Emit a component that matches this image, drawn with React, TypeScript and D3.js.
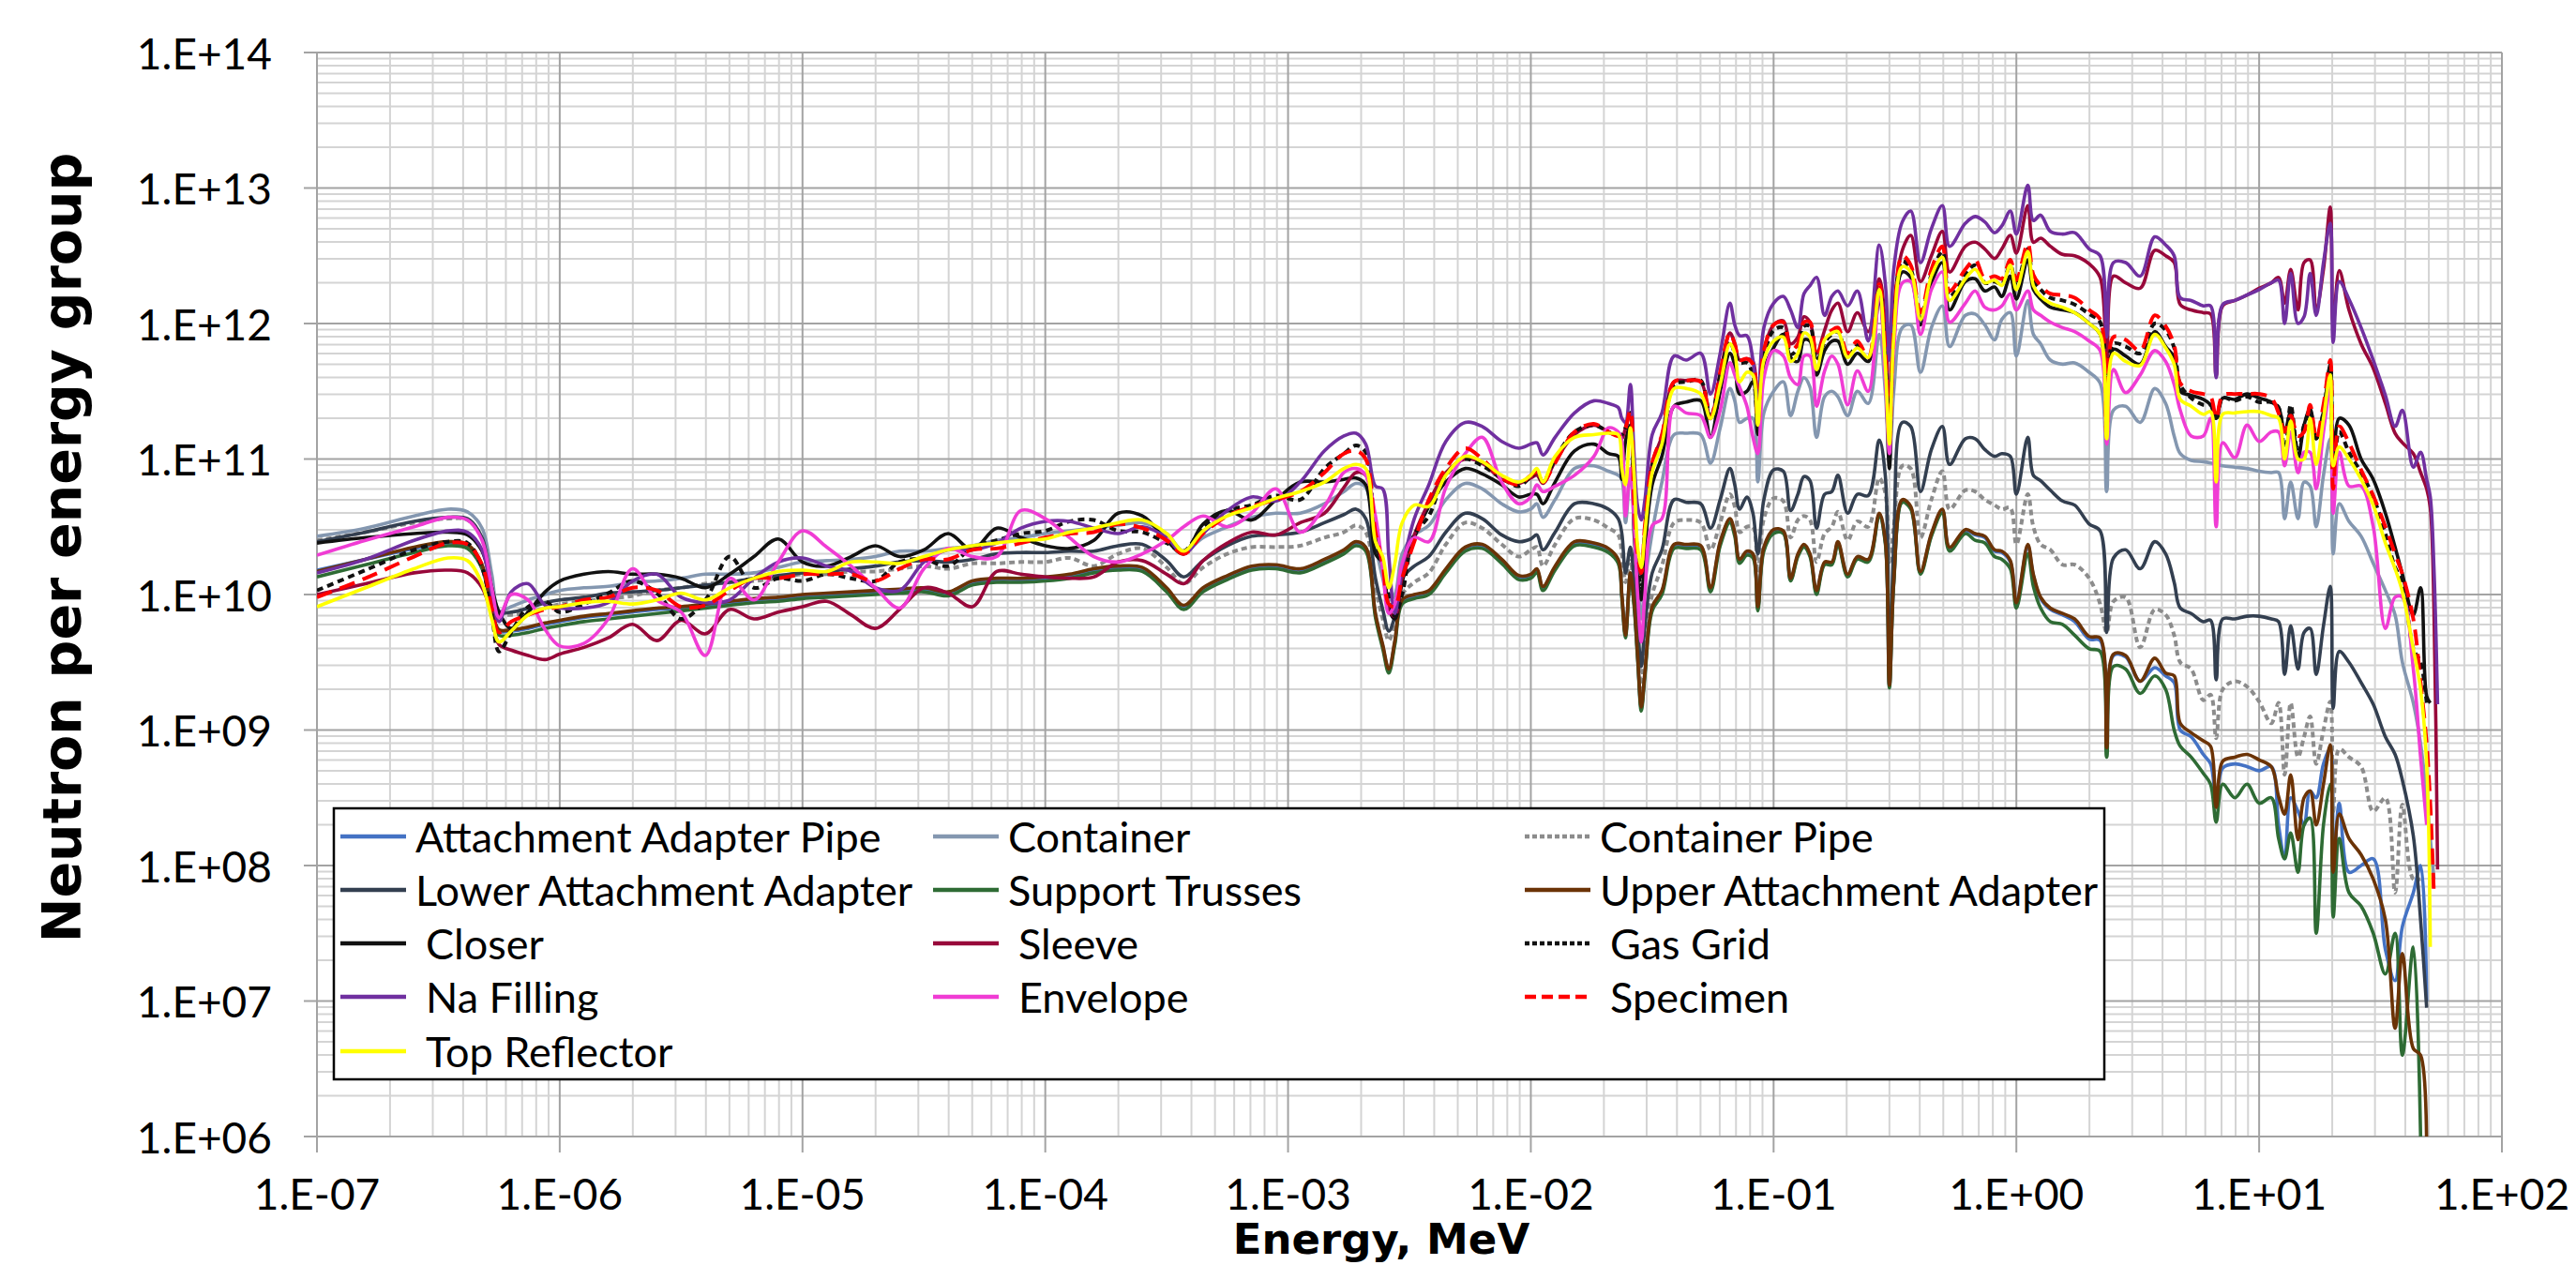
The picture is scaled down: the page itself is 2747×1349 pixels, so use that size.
import * as d3 from "d3";

// x grid: log10(energy, MeV); series values: log10(neutrons per energy group)
const logEnergy = [
  -7.0, -6.8, -6.6, -6.46, -6.38, -6.32, -6.28, -6.25, -6.2, -6.13, -6.06, -6.0,
  -5.9, -5.8, -5.7, -5.6, -5.5, -5.4, -5.3, -5.2, -5.1, -5.0, -4.9, -4.8, -4.7, -4.6, -4.5, -4.4, -4.3, -4.2, -4.1, -4.0, -3.9, -3.8, -3.7, -3.6, -3.5, -3.43, -3.35, -3.25, -3.15, -3.05,
  -2.95, -2.85, -2.77, -2.72, -2.68, -2.64, -2.61, -2.585, -2.56, -2.53, -2.48, -2.42, -2.35, -2.27, -2.2, -2.12, -2.05, -2.0, -1.975, -1.95, -1.9, -1.82, -1.74, -1.68, -1.64, -1.625, -1.61, -1.59, -1.575, -1.56, -1.545, -1.53, -1.5, -1.46, -1.41, -1.36, -1.3, -1.26, -1.22, -1.18, -1.16, -1.14, -1.11, -1.085, -1.065, -1.04, -1.0,
  -0.96, -0.93, -0.9, -0.875, -0.85, -0.823, -0.79, -0.76, -0.735, -0.695, -0.655, -0.61, -0.565, -0.54, -0.523, -0.505, -0.47, -0.435, -0.395, -0.35, -0.305, -0.275, -0.21, -0.17, -0.13, -0.09, -0.06, -0.025, 0.0, 0.047, 0.07, 0.1, 0.14, 0.19, 0.24, 0.3, 0.345, 0.372, 0.4, 0.45, 0.51, 0.57, 0.615, 0.65, 0.675, 0.72, 0.77, 0.8, 0.823, 0.85, 0.9, 0.95, 1.0, 1.05, 1.08, 1.105, 1.13, 1.16, 1.185, 1.21, 1.235, 1.265, 1.293, 1.305, 1.33, 1.37, 1.42, 1.47, 1.52, 1.56, 1.59, 1.635, 1.665, 1.69, 1.705, 1.72, 1.735, 1.745,
];

const attachmentAdapterPipe = [
  10.18, 10.26, 10.34, 10.38, 10.36, 10.21, 9.89, 9.73, 9.73, 9.75, 9.78, 9.8,
  9.83, 9.85, 9.87, 9.89, 9.9, 9.92, 9.94, 9.96, 9.97, 9.99, 10.0, 10.01, 10.02, 10.03, 10.04, 10.01, 10.09, 10.11, 10.11, 10.12, 10.14, 10.18, 10.2, 10.19, 10.04, 9.91, 10.04, 10.13, 10.2, 10.21,
  10.18, 10.25, 10.32, 10.38, 10.34, 9.85, 9.62, 9.44, 9.65, 9.95, 9.99, 10.02, 10.18, 10.34, 10.36, 10.25, 10.13, 10.14, 10.18, 10.05, 10.2, 10.38, 10.37, 10.33, 10.25, 9.99, 9.7, 10.15, 9.94, 9.54, 9.16, 9.42, 9.9, 10.02, 10.36, 10.36, 10.35, 10.04, 10.38, 10.55, 10.45, 10.25, 10.31, 10.29, 9.9, 10.34, 10.47,
  10.46, 10.11, 10.29, 10.36, 10.29, 10.02, 10.23, 10.23, 10.38, 10.14, 10.27, 10.25, 10.59, 10.39, 9.32, 10.09, 10.69, 10.64, 10.16, 10.44, 10.62, 10.34, 10.47, 10.44, 10.42, 10.32, 10.31, 10.24, 9.93, 10.36, 10.14, 9.97, 9.89, 9.85, 9.8, 9.67, 9.66, 8.86, 9.55, 9.54, 9.36, 9.46, 9.4, 9.35, 9.0, 8.95, 8.82, 8.75, 8.5, 8.72, 8.75, 8.73, 8.7, 8.73, 8.3, 8.05, 8.5, 8.4, 8.3, 8.55, 8.5, 8.75, 8.86, 7.92, 8.46, 7.95, 8.0, 8.05, 7.38, 7.15, 7.55, 7.8, 8.0, 7.0, null, null, null, null,
];

const container = [
  10.43, 10.49, 10.58, 10.63, 10.61, 10.49, 10.15, 9.88, 9.91, 9.96, 10.0, 10.03,
  10.05, 10.06, 10.09, 10.1, 10.12, 10.15, 10.15, 10.16, 10.2, 10.24, 10.25, 10.26, 10.28, 10.32, 10.32, 10.34, 10.36, 10.4, 10.42, 10.45, 10.47, 10.49, 10.51, 10.53, 10.45, 10.32, 10.42, 10.5, 10.57, 10.6,
  10.6, 10.67, 10.76, 10.82, 10.79, 10.37, 10.12, 9.96, 10.0, 10.3, 10.44, 10.51, 10.7, 10.82, 10.78, 10.67, 10.61, 10.63, 10.67, 10.57, 10.7, 10.93, 10.95, 10.91, 10.88, 10.85, 10.53, 10.9, 10.6, 10.12, 9.82, 10.09, 10.46, 10.83, 11.18, 11.19, 11.18, 10.97, 11.23, 11.52, 11.43, 11.27, 11.3, 11.3, 10.83, 11.34, 11.5,
  11.57, 11.32, 11.5, 11.6, 11.53, 11.16, 11.46, 11.5, 11.46, 11.32, 11.5, 11.41, 11.92, 11.5, 10.97, 11.5, 11.97, 11.99, 11.64, 11.97, 12.13, 11.83, 12.06, 12.07, 11.99, 11.88, 12.03, 12.08, 11.76, 12.17, 11.92, 11.85, 11.73, 11.7, 11.71, 11.64, 11.56, 10.76, 11.36, 11.39, 11.27, 11.52, 11.41, 11.17, 11.04, 10.99, 10.98, 10.97, 10.96, 10.95, 10.94, 10.93, 10.91, 10.9, 10.9, 10.56, 10.83, 10.56, 10.83, 10.8, 10.5, 10.88, 11.15, 10.3, 10.67, 10.54, 10.43, 10.23, 10.03, 9.85, 9.5, 9.2, 8.9, 8.5, 8.2, 7.9, null, null,
];

const containerPipe = [
  10.4, 10.46, 10.53, 10.56, 10.55, 10.41, 10.05, 9.86, 9.85, 9.87, 9.9, 9.93,
  9.95, 9.97, 9.99, 10.03, 10.05, 10.08, 10.09, 10.1, 10.12, 10.15, 10.15, 10.17, 10.17, 10.19, 10.21, 10.19, 10.23, 10.23, 10.24, 10.24, 10.27, 10.21, 10.3, 10.34, 10.2, 10.08, 10.2, 10.3, 10.35, 10.35,
  10.36, 10.42, 10.46, 10.51, 10.46, 10.05, 9.82, 9.66, 9.79, 10.0, 10.09, 10.16, 10.37, 10.53, 10.49, 10.37, 10.28, 10.33, 10.35, 10.21, 10.37, 10.56, 10.55, 10.49, 10.44, 10.3, 10.09, 10.25, 10.0, 9.68, 9.3, 9.66, 10.0, 10.21, 10.53, 10.55, 10.53, 10.33, 10.53, 10.74, 10.65, 10.46, 10.5, 10.5, 10.16, 10.56, 10.71,
  10.69, 10.42, 10.55, 10.58, 10.55, 10.24, 10.45, 10.5, 10.61, 10.4, 10.54, 10.5, 10.86, 10.75, 10.24, 10.5, 10.95, 10.93, 10.42, 10.7, 10.91, 10.63, 10.77, 10.76, 10.7, 10.66, 10.63, 10.64, 10.37, 10.74, 10.5, 10.37, 10.33, 10.22, 10.22, 10.12, 9.93, 9.72, 9.95, 9.98, 9.61, 9.89, 9.85, 9.7, 9.5, 9.45, 9.22, 9.26, 8.94, 9.3, 9.36, 9.32, 9.21, 9.05, 9.2, 8.67, 9.2, 8.8, 8.95, 9.1, 8.75, 9.0, 9.21, 8.4, 8.86, 8.8, 8.73, 8.4, 8.5, 7.8, 8.45, 7.9, 7.9, null, null, null, null, null,
];

const lowerAttachmentAdapter = [
  10.39, 10.46, 10.54, 10.57, 10.56, 10.42, 10.05, 9.87, 9.87, 9.9, 9.94, 9.96,
  9.98, 10.01, 10.02, 10.03, 10.05, 10.07, 10.09, 10.12, 10.14, 10.16, 10.17, 10.19, 10.21, 10.24, 10.25, 10.24, 10.26, 10.3, 10.31, 10.31, 10.32, 10.32, 10.36, 10.37, 10.25, 10.13, 10.25, 10.36, 10.43, 10.44,
  10.46, 10.53, 10.59, 10.63, 10.56, 10.12, 9.89, 9.73, 9.84, 10.12, 10.21, 10.28, 10.46, 10.6, 10.56, 10.44, 10.39, 10.41, 10.44, 10.33, 10.46, 10.67, 10.67, 10.63, 10.56, 10.45, 10.16, 10.35, 10.1, 9.77, 9.47, 9.77, 10.16, 10.33, 10.7, 10.68, 10.67, 10.49, 10.7, 10.93, 10.81, 10.63, 10.72, 10.6, 10.3, 10.7, 10.92,
  10.91, 10.62, 10.74, 10.87, 10.84, 10.49, 10.74, 10.76, 10.88, 10.6, 10.74, 10.73, 11.14, 10.88, 9.45, 10.37, 11.27, 11.24, 10.76, 11.07, 11.24, 10.96, 11.15, 11.15, 11.07, 11.02, 11.04, 11.02, 10.74, 11.16, 10.88, 10.84, 10.77, 10.69, 10.66, 10.52, 10.47, 9.72, 10.27, 10.33, 10.19, 10.39, 10.3, 10.09, 9.9, 9.86, 9.8, 9.81, 9.37, 9.82, 9.82, 9.84, 9.84, 9.82, 9.8, 9.41, 9.77, 9.45, 9.72, 9.75, 9.41, 9.77, 10.06, 9.16, 9.58, 9.5, 9.35, 9.19, 8.95, 8.82, 8.63, 8.22, 7.6, 6.95, null, null, null, null,
];

const supportTrusses = [
  10.13, 10.22, 10.31, 10.36, 10.34, 10.19, 9.87, 9.7, 9.7, 9.72, 9.75, 9.77,
  9.8, 9.82, 9.84, 9.86, 9.88, 9.9, 9.92, 9.94, 9.95, 9.97, 9.98, 9.99, 10.0, 10.01, 10.02, 9.99, 10.07, 10.09, 10.09, 10.1, 10.12, 10.16, 10.18, 10.17, 10.02, 9.89, 10.02, 10.11, 10.18, 10.19,
  10.16, 10.23, 10.3, 10.36, 10.32, 9.83, 9.6, 9.42, 9.63, 9.93, 9.97, 10.0, 10.16, 10.32, 10.34, 10.23, 10.11, 10.12, 10.16, 10.03, 10.18, 10.36, 10.35, 10.31, 10.23, 9.97, 9.68, 10.13, 9.92, 9.52, 9.14, 9.4, 9.88, 10.0, 10.34, 10.34, 10.33, 10.02, 10.36, 10.53, 10.43, 10.23, 10.29, 10.27, 9.88, 10.32, 10.45,
  10.45, 10.1, 10.28, 10.35, 10.28, 10.0, 10.22, 10.22, 10.37, 10.13, 10.26, 10.24, 10.58, 10.38, 9.31, 10.08, 10.68, 10.63, 10.15, 10.43, 10.6, 10.32, 10.45, 10.4, 10.38, 10.28, 10.26, 10.19, 9.9, 10.3, 10.06, 9.9, 9.8, 9.78, 9.7, 9.6, 9.58, 8.8, 9.47, 9.45, 9.27, 9.4, 9.3, 9.0, 8.88, 8.8, 8.68, 8.6, 8.32, 8.6, 8.5, 8.6, 8.46, 8.5, 8.2, 8.05, 8.24, 7.95, 8.3, 8.35, 7.5, 8.3, 8.6, 7.62, 8.2, 7.8, 7.7, 7.5, 7.2, 7.5, 6.6, 7.4, 6.0, null, null, null, null, null,
];

const upperAttachmentAdapter = [
  10.17, 10.26, 10.35, 10.39, 10.37, 10.22, 9.9, 9.74, 9.74, 9.76, 9.79, 9.81,
  9.84, 9.86, 9.88, 9.9, 9.91, 9.93, 9.95, 9.97, 9.98, 10.0, 10.01, 10.02, 10.03, 10.04, 10.05, 10.02, 10.1, 10.12, 10.12, 10.13, 10.15, 10.19, 10.21, 10.2, 10.05, 9.92, 10.05, 10.14, 10.21, 10.22,
  10.19, 10.26, 10.33, 10.39, 10.35, 9.86, 9.63, 9.45, 9.66, 9.96, 10.0, 10.03, 10.19, 10.35, 10.37, 10.26, 10.14, 10.15, 10.19, 10.06, 10.21, 10.39, 10.38, 10.34, 10.26, 10.0, 9.7, 10.16, 9.95, 9.55, 9.17, 9.43, 9.91, 10.03, 10.37, 10.37, 10.36, 10.05, 10.39, 10.56, 10.46, 10.26, 10.32, 10.3, 9.91, 10.35, 10.48,
  10.47, 10.12, 10.3, 10.37, 10.3, 10.03, 10.24, 10.24, 10.39, 10.15, 10.28, 10.26, 10.6, 10.4, 9.33, 10.1, 10.7, 10.65, 10.17, 10.45, 10.63, 10.35, 10.48, 10.45, 10.43, 10.33, 10.32, 10.25, 9.94, 10.37, 10.15, 9.98, 9.9, 9.86, 9.82, 9.69, 9.68, 8.87, 9.56, 9.55, 9.36, 9.53, 9.42, 9.4, 9.05, 8.98, 8.92, 8.88, 8.43, 8.77, 8.8, 8.82, 8.78, 8.73, 8.51, 8.38, 8.67, 8.19, 8.5, 8.55, 8.3, 8.6, 8.89, 7.95, 8.38, 8.2, 8.08, 7.9, 7.6, 6.8, 7.35, 6.65, 6.6, 5.8, null, null, null, null,
];

const closer = [
  10.38, 10.42, 10.45, 10.46, 10.44, 10.32, 10.05, 9.87, 9.75, 9.87, 10.02, 10.1,
  10.15, 10.17, 10.15, 10.15, 10.12, 10.05, 10.15, 10.28, 10.41, 10.24, 10.21, 10.28, 10.36, 10.28, 10.33, 10.45, 10.33, 10.49, 10.42, 10.36, 10.34, 10.4, 10.6, 10.58, 10.4, 10.3, 10.52, 10.62, 10.55, 10.7,
  10.83, 10.83, 10.85, 10.86, 10.81, 10.3, 10.23, 9.89, 9.82, 10.09, 10.42, 10.65, 10.83, 10.93, 10.89, 10.81, 10.72, 10.74, 10.74, 10.67, 10.83, 11.06, 11.11, 11.04, 11.02, 10.85, 11.13, 11.25, 10.46, 10.12, 9.96, 10.33, 10.81, 11.02, 11.39, 11.42, 11.43, 11.16, 11.5, 11.78, 11.69, 11.48, 11.5, 11.57, 11.18, 11.66, 11.82,
  11.92, 11.75, 11.72, 11.88, 11.87, 11.62, 11.8, 11.87, 11.87, 11.7, 11.78, 11.72, 12.17, 11.7, 10.93, 11.85, 12.38, 12.34, 11.99, 12.3, 12.45, 12.1, 12.31, 12.33, 12.24, 12.27, 12.2, 12.35, 12.18, 12.47, 12.25, 12.18, 12.12, 12.1, 12.08, 12.0, 11.92, 11.3, 11.81, 11.76, 11.7, 11.94, 11.83, 11.75, 11.5, 11.47, 11.44, 11.4, 11.3, 11.45, 11.44, 11.48, 11.45, 11.42, 11.38, 11.2, 11.35, 11.0, 11.25, 11.37, 11.15, 11.35, 11.7, 10.85, 11.3, 11.25, 11.0, 10.85, 10.6, 10.35, 10.15, 9.85, 10.05, 9.25, 9.2, null, null, null,
];

const sleeve = [
  10.0, 10.08, 10.16, 10.18, 10.16, 10.05, 9.85, 9.63, 9.59, 9.55, 9.52, 9.56,
  9.61, 9.68, 9.78, 9.66, 9.81, 9.71, 9.89, 9.82, 9.87, 9.91, 9.95, 9.85, 9.75, 9.89, 10.05, 10.01, 9.91, 10.17, 10.15, 10.13, 10.12, 10.13, 10.24, 10.25, 10.15, 10.08, 10.25, 10.38, 10.46, 10.44,
  10.53, 10.6, 10.79, 10.9, 10.88, 10.46, 10.2, 9.89, 9.84, 10.12, 10.44, 10.68, 10.9, 11.0, 10.97, 10.85, 10.82, 10.86, 10.88, 10.82, 10.98, 11.18, 11.25, 11.2, 11.17, 11.15, 11.23, 11.34, 10.7, 10.3, 10.14, 10.48, 10.97, 11.17, 11.57, 11.58, 11.57, 11.3, 11.63, 11.93, 11.85, 11.73, 11.74, 11.72, 11.38, 11.8, 11.99,
  12.02, 11.85, 11.9, 12.05, 12.01, 11.78, 11.95, 12.1, 12.15, 11.94, 12.08, 11.94, 12.33, 12.0, 11.2, 12.1, 12.54, 12.65, 12.31, 12.5, 12.68, 12.38, 12.57, 12.6, 12.55, 12.48, 12.55, 12.65, 12.52, 12.87, 12.6, 12.63, 12.57, 12.51, 12.5, 12.44, 12.34, 11.68, 12.35, 12.3, 12.26, 12.54, 12.5, 12.45, 12.14, 12.1, 12.08, 12.07, 11.61, 12.13, 12.17, 12.21, 12.26, 12.3, 12.34, 12.15, 12.4, 12.1, 12.45, 12.47, 12.1, 12.4, 12.86, 12.0, 12.39, 12.1, 11.85, 11.67, 11.41, 11.19, 11.12, 11.04, 10.9, 10.78, 10.64, 9.9, 7.97, null,
];

const gasGrid = [
  10.03, 10.18, 10.33, 10.39, 10.38, 10.2, 9.85, 9.58, 9.72, 9.91, 9.95, 9.87,
  9.93, 10.01, 10.1, 10.01, 9.82, 9.96, 10.28, 10.05, 10.12, 10.1, 10.15, 10.12, 10.1, 10.24, 10.26, 10.21, 10.35, 10.4, 10.45, 10.47, 10.54, 10.55, 10.47, 10.46, 10.38, 10.32, 10.5, 10.62, 10.66, 10.73,
  10.7, 10.93, 11.04, 11.1, 11.05, 10.39, 10.23, 10.0, 9.84, 10.0, 10.44, 10.58, 10.88, 11.0, 10.95, 10.86, 10.8, 10.87, 10.9, 10.83, 11.0, 11.2, 11.25, 11.2, 11.17, 11.18, 11.23, 11.34, 10.7, 10.23, 10.05, 10.46, 10.95, 11.11, 11.55, 11.57, 11.58, 11.3, 11.62, 11.87, 11.78, 11.71, 11.71, 11.62, 11.3, 11.75, 11.95,
  11.97, 11.77, 11.82, 11.98, 11.98, 11.72, 11.86, 11.92, 11.94, 11.75, 11.84, 11.72, 12.25, 11.75, 11.1, 11.9, 12.46, 12.4, 12.04, 12.36, 12.53, 12.2, 12.36, 12.43, 12.3, 12.31, 12.29, 12.43, 12.28, 12.55, 12.32, 12.25, 12.19, 12.17, 12.14, 12.07, 12.01, 11.2, 11.85, 11.83, 11.78, 12.0, 11.95, 11.82, 11.55, 11.45, 11.4, 11.4, 11.28, 11.45, 11.43, 11.46, 11.42, 11.42, 11.38, 11.0, 11.4, 11.05, 11.25, 11.35, 11.15, 11.35, 11.68, 10.9, 11.2, 11.05, 10.9, 10.72, 10.45, 10.2, 10.1, 9.6, 9.5, 9.2, null, null, null, null,
];

const naFilling = [
  10.16, 10.26, 10.4, 10.47, 10.46, 10.33, 10.0, 9.8, 10.02, 10.08, 9.92, 9.9,
  9.9, 9.94, 10.1, 10.15, 9.98, 9.94, 9.96, 10.12, 10.24, 10.27, 10.21, 10.17, 10.05, 10.03, 10.24, 10.33, 10.33, 10.38, 10.49, 10.54, 10.54, 10.49, 10.45, 10.5, 10.42, 10.3, 10.45, 10.62, 10.72, 10.69,
  10.83, 11.06, 11.17, 11.19, 11.11, 10.8, 10.78, 10.28, 9.86, 10.19, 10.56, 10.81, 11.13, 11.27, 11.24, 11.13, 11.08, 11.11, 11.12, 11.03, 11.16, 11.34, 11.43, 11.41, 11.38, 11.3, 11.27, 11.55, 11.04, 10.65, 10.55, 10.7, 11.18, 11.34, 11.76, 11.73, 11.78, 11.48, 11.78, 12.15, 11.99, 11.91, 11.91, 11.73, 11.39, 11.97, 12.15,
  12.2, 12.1, 11.97, 12.22, 12.28, 12.34, 12.06, 12.2, 12.24, 12.13, 12.24, 11.87, 12.58, 12.3, 11.73, 12.4, 12.75, 12.83, 12.45, 12.7, 12.87, 12.57, 12.74, 12.79, 12.75, 12.67, 12.72, 12.83, 12.66, 13.02, 12.76, 12.8, 12.68, 12.66, 12.67, 12.55, 12.5, 11.9, 12.45, 12.45, 12.35, 12.64, 12.58, 12.5, 12.19, 12.17, 12.13, 12.13, 11.6, 12.14, 12.17, 12.21, 12.25, 12.3, 12.32, 12.0, 12.37, 12.0, 12.05, 12.37, 12.06, 12.45, 12.74, 11.86, 12.31, 12.18, 11.97, 11.73, 11.47, 11.24, 11.36, 10.94, 11.05, 10.85, 10.72, 10.2, 9.19, null,
];

const envelope = [
  10.29, 10.4, 10.5, 10.57, 10.55, 10.4, 10.05, 9.83, 10.0, 9.96, 9.74, 9.62,
  9.64, 9.82, 10.19, 9.96, 9.87, 9.55, 10.12, 9.96, 10.24, 10.47, 10.35, 10.21, 10.05, 9.9, 10.19, 10.34, 10.28, 10.28, 10.62, 10.56, 10.42, 10.28, 10.24, 10.3, 10.4, 10.5, 10.58, 10.5, 10.6, 10.78,
  10.46, 10.65, 10.9, 10.93, 10.88, 10.58, 10.19, 9.86, 9.93, 10.23, 10.42, 10.39, 10.79, 11.04, 11.16, 10.83, 10.67, 10.72, 10.81, 10.76, 10.8, 10.88, 11.02, 11.23, 11.2, 11.13, 10.58, 10.93, 10.53, 10.0, 9.65, 10.0, 10.51, 10.56, 11.39, 11.34, 11.32, 11.16, 11.36, 11.71, 11.62, 11.53, 11.39, 11.16, 11.04, 11.6, 11.8,
  11.76, 11.6, 11.55, 11.76, 11.76, 11.39, 11.65, 11.76, 11.7, 11.4, 11.65, 11.5, 12.22, 11.6, 11.04, 11.8, 12.3, 12.31, 11.92, 12.25, 12.38, 12.01, 12.15, 12.24, 12.12, 12.1, 12.13, 12.22, 12.1, 12.24, 12.1, 12.06, 12.01, 11.97, 11.94, 11.87, 11.8, 11.11, 11.66, 11.49, 11.62, 11.8, 11.72, 11.55, 11.36, 11.17, 11.17, 11.3, 10.5, 11.12, 11.01, 11.25, 11.13, 11.2, 11.2, 10.95, 11.2, 10.9, 11.05, 11.05, 10.78, 11.2, 11.52, 10.6, 11.05, 10.8, 10.8, 10.5, 9.75, 9.98, 9.98, 9.45, 8.8, 8.3, null, null, null, null,
];

const specimen = [
  9.98, 10.12, 10.28, 10.38, 10.37, 10.22, 9.9, 9.72, 9.8, 9.85, 9.89, 9.91,
  9.96, 9.98, 10.05, 10.03, 9.91, 9.92, 10.03, 10.12, 10.12, 10.15, 10.15, 10.15, 10.1, 10.19, 10.26, 10.26, 10.33, 10.34, 10.38, 10.42, 10.45, 10.46, 10.52, 10.49, 10.4, 10.3, 10.45, 10.58, 10.65, 10.7,
  10.76, 10.9, 11.04, 11.06, 11.0, 10.46, 10.23, 9.93, 9.91, 10.12, 10.39, 10.7, 10.93, 11.08, 11.0, 10.86, 10.81, 10.88, 10.9, 10.83, 10.97, 11.2, 11.26, 11.2, 11.17, 11.2, 11.23, 11.36, 10.7, 10.3, 10.16, 10.51, 10.97, 11.18, 11.57, 11.58, 11.57, 11.3, 11.64, 11.93, 11.85, 11.73, 11.74, 11.7, 11.27, 11.8, 11.99,
  12.01, 11.8, 11.85, 12.01, 12.01, 11.76, 11.9, 11.95, 11.97, 11.78, 11.87, 11.75, 12.29, 11.8, 11.16, 11.95, 12.5, 12.43, 12.08, 12.4, 12.57, 12.24, 12.4, 12.47, 12.33, 12.35, 12.33, 12.47, 12.32, 12.59, 12.36, 12.28, 12.22, 12.21, 12.19, 12.1, 12.03, 11.17, 11.9, 11.88, 11.8, 12.06, 11.98, 11.84, 11.56, 11.5, 11.48, 11.46, 11.3, 11.47, 11.48, 11.48, 11.48, 11.45, 11.34, 11.2, 11.32, 11.17, 11.2, 11.4, 11.15, 11.4, 11.73, 10.78, 11.24, 11.12, 10.92, 10.73, 10.5, 10.3, 10.15, 9.82, 9.35, 8.9, 8.45, 7.78, null, null,
];

const topReflector = [
  9.91, 10.05, 10.19, 10.27, 10.25, 10.08, 9.82, 9.65, 9.73, 9.85, 9.9, 9.91,
  9.94, 9.95, 9.93, 9.96, 10.01, 9.96, 10.05, 10.12, 10.17, 10.18, 10.17, 10.24, 10.24, 10.23, 10.28, 10.33, 10.36, 10.38, 10.4, 10.41, 10.46, 10.49, 10.53, 10.55, 10.45, 10.32, 10.47, 10.58, 10.64, 10.71,
  10.76, 10.83, 10.93, 10.96, 10.93, 10.39, 10.28, 10.05, 10.23, 10.53, 10.66, 10.65, 10.88, 11.02, 10.98, 10.88, 10.83, 10.88, 10.93, 10.83, 11.02, 11.16, 11.18, 11.19, 11.18, 10.93, 10.81, 11.23, 10.9, 10.35, 10.2, 10.46, 10.9, 11.11, 11.52, 11.52, 11.48, 11.3, 11.55, 11.85, 11.78, 11.57, 11.64, 11.62, 11.25, 11.73, 11.87,
  11.9, 11.72, 11.78, 11.93, 11.9, 11.66, 11.88, 11.93, 11.94, 11.75, 11.82, 11.75, 12.25, 11.7, 11.11, 11.9, 12.42, 12.38, 12.03, 12.35, 12.49, 12.17, 12.33, 12.4, 12.3, 12.32, 12.28, 12.43, 12.25, 12.53, 12.28, 12.2, 12.15, 12.12, 12.08, 12.0, 11.92, 11.15, 11.78, 11.72, 11.69, 11.92, 11.82, 11.7, 11.44, 11.39, 11.33, 11.35, 10.83, 11.33, 11.34, 11.35, 11.35, 11.32, 11.3, 11.0, 11.28, 11.0, 11.0, 11.3, 10.96, 11.3, 11.62, 10.95, 11.09, 11.0, 10.85, 10.66, 10.38, 10.19, 10.02, 9.6, 9.3, 8.75, 7.4, null, null, null,
];

const xExponents = [-7, -6, -5, -4, -3, -2, -1, 0, 1, 2];
const yExponents = [6, 7, 8, 9, 10, 11, 12, 13, 14];

// drawing order follows the legend order (later series on top)
const series = [
  { name: "Attachment Adapter Pipe", values: attachmentAdapterPipe, color: "#4472C4", dash: null, lead: false },
  { name: "Container", values: container, color: "#8497B0", dash: null, lead: false },
  { name: "Container Pipe", values: containerPipe, color: "#8C8C8C", dash: "6 4", lead: false },
  { name: "Lower Attachment Adapter", values: lowerAttachmentAdapter, color: "#333F50", dash: null, lead: false },
  { name: "Support Trusses", values: supportTrusses, color: "#2E6B34", dash: null, lead: false },
  { name: "Upper Attachment Adapter", values: upperAttachmentAdapter, color: "#6B3306", dash: null, lead: false },
  { name: "Closer", values: closer, color: "#111111", dash: null, lead: true },
  { name: "Sleeve", values: sleeve, color: "#98083A", dash: null, lead: true },
  { name: "Gas Grid", values: gasGrid, color: "#111111", dash: "7 5", lead: true },
  { name: "Na Filling", values: naFilling, color: "#7030A0", dash: null, lead: true },
  { name: "Envelope", values: envelope, color: "#F03CD4", dash: null, lead: true },
  { name: "Specimen", values: specimen, color: "#FF0000", dash: "17 9", lead: true },
  { name: "Top Reflector", values: topReflector, color: "#FFFF00", dash: null, lead: true },
];

const W = 2747;
const H = 1349;
const plot = { left: 338, right: 2668, top: 56, bottom: 1212 };

function expLabel(e: number) {
  const s = String(Math.abs(e)).padStart(2, "0");
  return `1.E${e < 0 ? "-" : "+"}${s}`;
}

export default function App() {
  const x = d3.scaleLog().domain([1e-7, 1e2]).range([plot.left, plot.right]);
  const y = d3.scaleLog().domain([1e6, 1e14]).range([plot.bottom, plot.top]);

  const line = d3
    .line<[number, number | null]>()
    .defined((d) => d[1] != null)
    .x((d) => x(Math.pow(10, d[0])))
    .y((d) => y(Math.pow(10, d[1] as number)))
    .curve(d3.curveCatmullRom.alpha(0.5));

  const minorX: number[] = [];
  xExponents.slice(0, -1).forEach((e) => {
    for (let m = 2; m <= 9; m++) minorX.push(m * Math.pow(10, e));
  });
  const minorY: number[] = [];
  yExponents.slice(0, -1).forEach((e) => {
    for (let m = 2; m <= 9; m++) minorY.push(m * Math.pow(10, e));
  });

  const legendCols = [363, 995, 1626];
  const legendRows = [892, 949, 1006, 1063, 1121];

  return (
    <svg
      width={W}
      height={H}
      style={{ position: "fixed", left: 0, top: 0, background: "#fff" }}
    >
      <defs>
        <clipPath id="plotClip">
          <rect x={plot.left} y={plot.top} width={plot.right - plot.left} height={plot.bottom - plot.top} />
        </clipPath>
      </defs>
      <rect width={W} height={H} fill="#fff" />

      {/* minor grid */}
      <g stroke="#D4D4D4" strokeWidth={2}>
        {minorX.map((v, i) => (
          <line key={"mx" + i} x1={x(v)} x2={x(v)} y1={plot.top} y2={plot.bottom} />
        ))}
        {minorY.map((v, i) => (
          <line key={"my" + i} x1={plot.left} x2={plot.right} y1={y(v)} y2={y(v)} />
        ))}
      </g>
      {/* major grid + ticks */}
      <g stroke="#A3A3A3" strokeWidth={2}>
        {xExponents.map((e) => (
          <line key={"gx" + e} x1={x(Math.pow(10, e))} x2={x(Math.pow(10, e))} y1={plot.top} y2={plot.bottom + 17} />
        ))}
        {yExponents.map((e) => (
          <line key={"gy" + e} x1={plot.left - 14} x2={plot.right} y1={y(Math.pow(10, e))} y2={y(Math.pow(10, e))} />
        ))}
      </g>

      {/* series */}
      <g clipPath="url(#plotClip)" fill="none" strokeLinejoin="round">
        {series.map((s) => {
          const pts = logEnergy.map((le, i) => [le, s.values[i] ?? null] as [number, number | null]);
          return (
            <path
              key={s.name}
              d={line(pts) || ""}
              stroke={s.color}
              strokeWidth={s.dash ? 4 : 3.6}
              strokeDasharray={s.dash || undefined}
            />
          );
        })}
      </g>

      {/* axis labels */}
      <g fontFamily="Lato, 'Open Sans', sans-serif" fontSize={46} fill="#000">
        {yExponents.map((e) => (
          <text key={"ty" + e} x={290} y={y(Math.pow(10, e))} textAnchor="end" dominantBaseline="central">
            {expLabel(e)}
          </text>
        ))}
        {xExponents.map((e) => (
          <text key={"tx" + e} x={x(Math.pow(10, e))} y={1272} textAnchor="middle" dominantBaseline="central">
            {expLabel(e)}
          </text>
        ))}
      </g>

      <text
        transform="translate(66,584) rotate(-90)"
        textAnchor="middle"
        dominantBaseline="central"
        fontFamily="'DejaVu Sans', sans-serif"
        fontWeight="bold"
        fontSize={57}
      >
        Neutron per energy group
      </text>
      <text
        x={1473}
        y={1337}
        textAnchor="middle"
        fontFamily="'DejaVu Sans', sans-serif"
        fontWeight="bold"
        fontSize={45}
      >
        Energy, MeV
      </text>

      {/* legend */}
      <g>
        <rect x={356} y={862} width={1888} height={289} fill="#fff" stroke="#000" strokeWidth={2.5} />
        {series.map((s, i) => {
          const cx = legendCols[i % 3];
          const cy = legendRows[Math.floor(i / 3)];
          return (
            <g key={"lg" + s.name}>
              <line
                x1={cx}
                x2={cx + 70}
                y1={cy}
                y2={cy}
                stroke={s.color}
                strokeWidth={4.5}
                strokeDasharray={s.dash ? (s.name === "Specimen" ? "12 6" : "5 3") : undefined}
              />
              <text
                x={cx + 80 + (s.lead ? 11 : 0)}
                y={cy}
                dominantBaseline="central"
                fontFamily="Lato, 'Open Sans', sans-serif"
                fontSize={45}
              >
                {s.name}
              </text>
            </g>
          );
        })}
      </g>
    </svg>
  );
}
